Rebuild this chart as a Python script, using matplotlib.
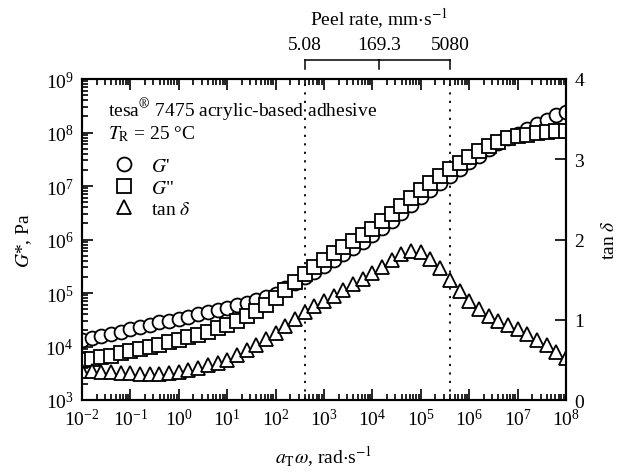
import numpy as np
import matplotlib
matplotlib.use('Agg')
import matplotlib.pyplot as plt
import matplotlib.transforms as mtransforms
from matplotlib.ticker import LogLocator, NullFormatter, FixedLocator

plt.rcParams['font.family'] = ['Liberation Serif', 'DejaVu Serif']
plt.rcParams['mathtext.fontset'] = 'stix'
plt.rcParams['font.size'] = 14

# reduced frequency a_T*omega (log10 of rad/s)
log_w = [-2.0, -1.8, -1.6, -1.4, -1.2, -1.0, -0.8, -0.6, -0.4, -0.2,
         0.0, 0.2, 0.4, 0.6, 0.8, 1.0, 1.2, 1.4, 1.6, 1.8,
         2.0, 2.2, 2.4, 2.6, 2.8, 3.0, 3.2, 3.4, 3.6, 3.8,
         4.0, 4.2, 4.4, 4.6, 4.8, 5.0, 5.2, 5.4, 5.6, 5.8,
         6.0, 6.2, 6.4, 6.6, 6.8, 7.0, 7.2, 7.4, 7.6, 7.8, 8.0]
# log10 G' (Pa)
log_g1 = [4.12, 4.15, 4.19, 4.23, 4.28, 4.33, 4.37, 4.41, 4.45, 4.48,
          4.52, 4.56, 4.60, 4.64, 4.68, 4.72, 4.77, 4.82, 4.87, 4.93,
          4.99, 5.09, 5.19, 5.30, 5.40, 5.50, 5.61, 5.72, 5.84, 5.96,
          6.08, 6.21, 6.35, 6.50, 6.65, 6.80, 6.93, 7.06, 7.19, 7.32,
          7.45, 7.57, 7.69, 7.80, 7.89, 7.97, 8.06, 8.15, 8.24, 8.32, 8.38]
# log10 G'' (Pa)
log_g2 = [3.74, 3.77, 3.80, 3.83, 3.87, 3.91, 3.95, 3.99, 4.03, 4.08,
          4.12, 4.17, 4.22, 4.28, 4.34, 4.40, 4.48, 4.57, 4.67, 4.78,
          4.90, 5.05, 5.20, 5.35, 5.49, 5.62, 5.74, 5.86, 5.98, 6.09,
          6.20, 6.34, 6.48, 6.63, 6.78, 6.93, 7.06, 7.19, 7.31, 7.43,
          7.55, 7.65, 7.75, 7.83, 7.89, 7.93, 7.96, 7.99, 8.01, 8.02, 8.02]
tan_d = [0.36, 0.36, 0.35, 0.35, 0.34, 0.34, 0.33, 0.33, 0.33, 0.34,
         0.35, 0.37, 0.40, 0.43, 0.46, 0.50, 0.56, 0.62, 0.69, 0.76,
         0.83, 0.92, 1.01, 1.10, 1.17, 1.23, 1.30, 1.37, 1.44, 1.51,
         1.58, 1.66, 1.74, 1.82, 1.86, 1.84, 1.76, 1.64, 1.50, 1.36,
         1.23, 1.13, 1.05, 0.99, 0.93, 0.88, 0.82, 0.75, 0.68, 0.60, 0.52]

peel_rates = [5.08, 169.3, 5080]   # mm/s
peel_labels = ['5.08', '169.3', '5080']
shift = 80.0                        # a_T*omega per mm/s of peel rate

w = 10 ** np.array(log_w)
g1 = 10 ** np.array(log_g1)
g2 = 10 ** np.array(log_g2)
tan_d = np.array(tan_d)
peel_w = np.array(peel_rates) * shift

fig = plt.figure(figsize=(6.24, 4.77), dpi=100)
ax = fig.add_axes([82 / 624, 76 / 477, 484 / 624, 321 / 477])
ax2 = ax.twinx()

mk = dict(ls='none', mfc='white', mec='black', mew=1.3, ms=10)
h1, = ax.plot(w, g1, marker='o', label="$G$'", **mk)
h2, = ax.plot(w, g2, marker='s', label='$G$"', **mk)
h3, = ax2.plot(w, tan_d, marker='^', label=r'tan $\delta$', **mk)

for pw in peel_w[[0, 2]]:
    ax.axvline(pw, color='black', ls=(0, (1.2, 3.5)), lw=1.3, zorder=0)

ax.set_xscale('log')
ax.set_yscale('log')
ax.set_xlim(1e-2, 1e8)
ax.set_ylim(1e3, 1e9)
ax2.set_ylim(0, 4)

ax.xaxis.set_major_locator(LogLocator(base=10, numticks=20))
ax.xaxis.set_minor_locator(LogLocator(base=10, subs=np.arange(2, 10), numticks=20))
ax.xaxis.set_minor_formatter(NullFormatter())
ax.yaxis.set_major_locator(LogLocator(base=10, numticks=20))
ax.yaxis.set_minor_locator(LogLocator(base=10, subs=np.arange(2, 10), numticks=20))
ax.yaxis.set_minor_formatter(NullFormatter())
ax2.yaxis.set_major_locator(FixedLocator([0, 1, 2, 3, 4]))

ax.tick_params(which='both', direction='in', top=True, right=False, width=1.2)
ax.tick_params(which='major', length=8, pad=6)
ax.tick_params(which='minor', length=4)
ax2.tick_params(direction='in', length=8, width=1.2, pad=6)
for a in (ax, ax2):
    for s in a.spines.values():
        s.set_linewidth(1.5)

ax.set_xlabel(r'$a_\mathrm{T}\omega$, rad$\cdot$s$^{-1}$', labelpad=10)
ax.set_ylabel('$G$*, Pa', labelpad=8)
ax2.set_ylabel(r'tan $\delta$', labelpad=12)

# peel-rate bracket above the plot
trans = mtransforms.blended_transform_factory(ax.transData, ax.transAxes)
ax.plot([peel_w[0], peel_w[-1]], [1.059, 1.059], color='black', lw=1.1,
        transform=trans, clip_on=False)
for pw, lab in zip(peel_w, peel_labels):
    ax.plot([pw, pw], [1.031, 1.059], color='black', lw=1.1,
            transform=trans, clip_on=False)
    ax.text(pw, 1.108, lab, transform=trans, ha='center', va='center')
ax.text(peel_w[1], 1.19, r'Peel rate, mm$\cdot$s$^{-1}$', transform=trans,
        ha='center', va='center')

ax2.text(0.054, 0.905, r'tesa$^{\circledR}$ 7475 acrylic-based adhesive',
         transform=ax.transAxes, va='center')
ax2.text(0.054, 0.83, r'$T_\mathrm{R}$ = 25 °C', transform=ax.transAxes,
         va='center')
ax2.legend(handles=[h1, h2, h3], loc='upper left', frameon=False,
           bbox_to_anchor=(0.05, 0.78), handlelength=1.0, handletextpad=0.9,
           labelspacing=0.2, borderaxespad=0)

fig.savefig('out.png', dpi=100)
